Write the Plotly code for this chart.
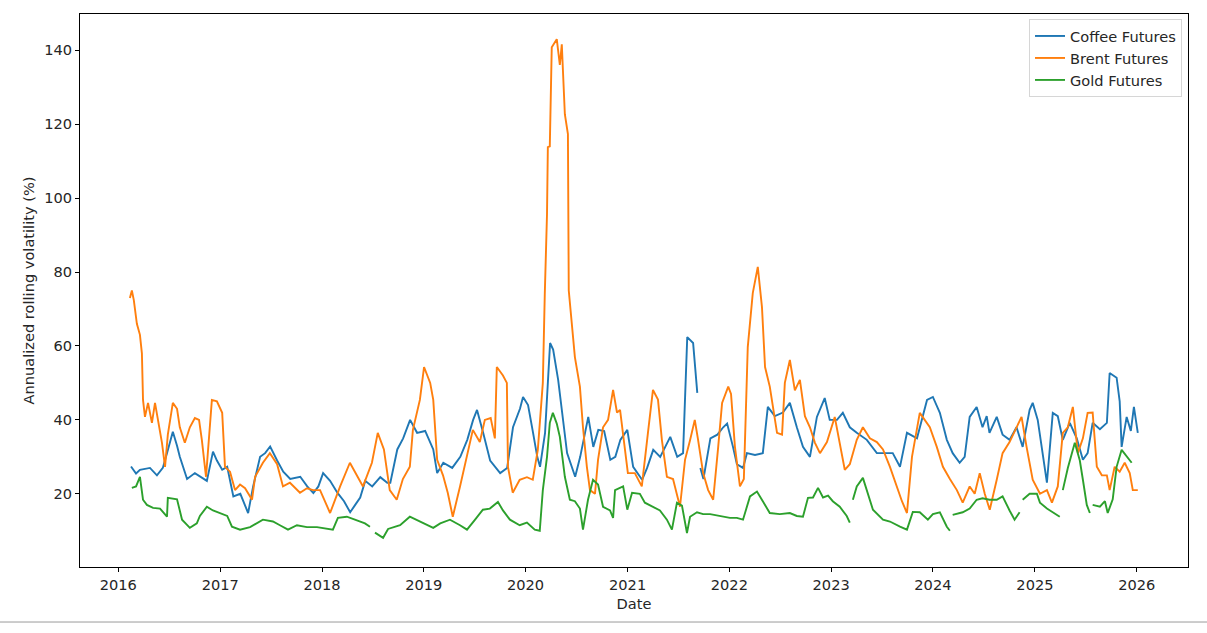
import plotly.graph_objects as go

# ---------------- data ----------------
coffee_dates = [
    "2016-02-16", "2016-03-05", "2016-03-19", "2016-04-24", "2016-05-19", "2016-06-09", "2016-06-24", "2016-07-15",
    "2016-07-30", "2016-08-09", "2016-09-04", "2016-10-02", "2016-11-14", "2016-12-06", "2016-12-20",
    "2017-01-08", "2017-01-26", "2017-02-17", "2017-03-14", "2017-04-11", "2017-04-29", "2017-05-24", "2017-06-11",
    "2017-06-29", "2017-07-24", "2017-08-15", "2017-09-09", "2017-10-15", "2017-11-09", "2017-12-01", "2017-12-19",
    "2018-01-05", "2018-01-30", "2018-02-25", "2018-03-21", "2018-04-12", "2018-04-30", "2018-05-18", "2018-06-05",
    "2018-06-30", "2018-07-29", "2018-08-23", "2018-09-03", "2018-09-28", "2018-10-19", "2018-11-13", "2018-12-08",
    "2019-01-06", "2019-02-04", "2019-02-18", "2019-03-12", "2019-04-13", "2019-05-12", "2019-06-06", "2019-06-27",
    "2019-07-11", "2019-08-02", "2019-08-27", "2019-10-02", "2019-10-27", "2019-11-17", "2019-12-12", "2019-12-23",
    "2020-01-10", "2020-01-28", "2020-02-12", "2020-02-22", "2020-03-11", "2020-03-29", "2020-04-09", "2020-04-27",
    "2020-05-11", "2020-05-29", "2020-06-27", "2020-07-15", "2020-08-13", "2020-08-31", "2020-09-18", "2020-10-09",
    "2020-10-31", "2020-11-18", "2020-12-06", "2020-12-31",
    "2021-01-21", "2021-02-22", "2021-03-12", "2021-04-03", "2021-04-28", "2021-06-03", "2021-06-28", "2021-07-19",
    "2021-08-03", "2021-08-24", "2021-09-08", "2021-09-13",
    "2021-09-19", "2021-09-30", "2021-10-25", "2021-11-19", "2021-12-10", "2021-12-24",
    "2022-01-14", "2022-01-28", "2022-02-19", "2022-03-05", "2022-04-03", "2022-05-01", "2022-05-19", "2022-06-13",
    "2022-07-12", "2022-08-06", "2022-08-31", "2022-09-22", "2022-10-17", "2022-11-11", "2022-12-09", "2022-12-27",
    "2023-01-22", "2023-02-12", "2023-03-09", "2023-04-03", "2023-05-09", "2023-06-14", "2023-07-13", "2023-08-10",
    "2023-09-05", "2023-09-30", "2023-11-05", "2023-12-11",
    "2024-01-01", "2024-01-26", "2024-02-20", "2024-03-12", "2024-04-06", "2024-04-24", "2024-05-12", "2024-06-06",
    "2024-06-27", "2024-07-12", "2024-07-22", "2024-08-17", "2024-09-07", "2024-10-02", "2024-10-27", "2024-11-18",
    "2024-12-13", "2024-12-24",
    "2025-01-11", "2025-01-29", "2025-02-13", "2025-03-06", "2025-03-24", "2025-04-11", "2025-05-06", "2025-05-31",
    "2025-06-22", "2025-07-09", "2025-07-27", "2025-08-22", "2025-09-16", "2025-09-26", "2025-10-21", "2025-11-01",
    "2025-11-08", "2025-11-26", "2025-12-11", "2025-12-22", "2026-01-05",
]
coffee_vals = [
    27.4, 25.5, 26.5, 27.0, 25.0, 27.0, 31, 36.8, 33, 30, 24, 25.6, 23.5, 31.4, 29,
    26.5, 27.3, 19.3, 20, 14.8, 22, 30, 31, 32.8, 29, 26, 24, 24.6, 22, 20.2, 22,
    25.6, 23.5, 20.3, 18, 15, 17, 19, 23.5, 22, 24.5, 23, 23, 32, 35, 40, 36.5,
    37, 32, 25.6, 28.4, 27, 30, 34.6, 40, 42.7, 36.5, 29, 25.6, 27, 38, 43, 46.2,
    44, 36.5, 30, 27.3, 36.5, 60.8, 59, 50.8, 42.7, 31, 24.6, 30, 40.8, 32.7, 37.3, 37, 29.2, 30, 34.6, 37.3,
    27.3, 23.8, 27, 31.9, 30, 35.4, 30, 31, 62.4, 60.8, 47.3, None,
    27, 24, 35, 36, 38, 39,
    32.7, 28, 27, 31, 30.5, 31, 43.5, 41, 42, 44.6, 38, 32.7, 30, 40.8, 45.9, 40,
    40, 41.9, 38, 36.5, 34.6, 31, 31, 31, 27.3, 36.5, 35, 45.4,
    46.2, 41.9, 34.6, 31, 28.4, 30, 40.8, 43.5, 38, 41, 36.5, 40.8, 36, 34.6, 38, 32.7, 42.7, 44.6,
    40, 30, 23, 41.9, 41, 34.6, 39.2, 35, 29.2, 31, 39.2, 37.5, 39.2, 52.7, 51.4, 45, 32.7, 40.8, 37, 43.5, 36.5,
]

brent_dates = [
    "2016-02-12", "2016-02-19", "2016-02-26", "2016-03-08", "2016-03-19", "2016-03-26", "2016-03-30", "2016-04-06",
    "2016-04-17", "2016-05-01", "2016-05-12", "2016-05-23", "2016-06-06", "2016-06-17", "2016-06-27", "2016-07-15",
    "2016-07-30", "2016-08-09", "2016-08-27", "2016-09-14", "2016-10-02", "2016-10-17", "2016-10-27", "2016-11-11",
    "2016-12-02", "2016-12-20",
    "2017-01-08", "2017-01-18", "2017-02-05", "2017-02-23", "2017-03-13", "2017-03-31", "2017-04-25", "2017-05-06",
    "2017-06-03", "2017-06-28", "2017-07-24", "2017-08-14", "2017-09-08", "2017-10-14", "2017-11-08", "2017-11-30",
    "2017-12-25",
    "2018-01-30", "2018-02-10", "2018-03-07", "2018-04-11", "2018-05-06", "2018-05-28", "2018-06-29", "2018-07-20",
    "2018-08-11", "2018-09-01", "2018-09-26", "2018-10-18", "2018-11-12", "2018-11-23", "2018-12-18",
    "2019-01-02", "2019-01-24", "2019-02-04", "2019-02-18", "2019-03-11", "2019-03-28", "2019-04-15", "2019-05-11",
    "2019-06-05", "2019-06-26", "2019-07-21", "2019-08-08", "2019-08-29", "2019-09-13", "2019-09-20", "2019-10-12",
    "2019-10-26", "2019-10-30", "2019-11-16", "2019-12-11",
    "2020-01-06", "2020-01-27", "2020-02-14", "2020-03-03", "2020-03-10", "2020-03-18", "2020-03-21", "2020-03-28",
    "2020-04-04", "2020-04-22", "2020-05-03", "2020-05-10", "2020-05-21", "2020-06-01", "2020-06-04", "2020-06-26",
    "2020-07-14", "2020-07-25", "2020-08-08", "2020-08-19", "2020-09-06", "2020-09-17", "2020-10-05", "2020-10-23",
    "2020-11-10", "2020-11-24", "2020-12-05", "2020-12-22",
    "2021-01-02", "2021-01-27", "2021-02-21", "2021-03-15", "2021-04-02", "2021-04-20", "2021-05-04", "2021-05-22",
    "2021-06-13", "2021-07-08", "2021-07-26", "2021-08-13", "2021-08-30", "2021-09-10", "2021-09-29", "2021-10-17",
    "2021-11-04", "2021-11-22", "2021-12-06", "2021-12-28",
    "2022-01-07", "2022-01-21", "2022-02-08", "2022-02-22", "2022-03-08", "2022-03-26", "2022-04-13", "2022-04-28",
    "2022-05-09", "2022-05-26", "2022-06-21", "2022-07-09", "2022-07-19", "2022-08-06", "2022-08-24", "2022-09-11",
    "2022-09-29", "2022-10-17", "2022-11-04", "2022-11-22", "2022-12-17",
    "2023-01-14", "2023-02-01", "2023-02-19", "2023-03-09", "2023-04-03", "2023-04-25", "2023-05-20", "2023-06-14",
    "2023-07-06", "2023-07-31", "2023-08-25", "2023-09-12", "2023-09-30", "2023-10-18", "2023-11-15", "2023-12-03",
    "2023-12-21",
    "2024-01-15", "2024-02-06", "2024-03-02", "2024-03-27", "2024-04-17", "2024-05-12", "2024-05-30", "2024-06-17",
    "2024-07-05", "2024-07-23", "2024-08-17", "2024-09-07", "2024-10-02", "2024-10-27", "2024-11-14", "2024-12-02",
    "2024-12-24",
    "2025-01-19", "2025-02-13", "2025-03-03", "2025-03-24", "2025-04-11", "2025-04-29", "2025-05-17", "2025-06-04",
    "2025-06-22", "2025-07-09", "2025-07-27", "2025-08-11", "2025-08-29", "2025-09-16", "2025-09-26", "2025-10-14",
    "2025-11-01", "2025-11-19", "2025-12-07", "2025-12-18", "2026-01-05",
]
brent_vals = [
    73, 75, 72.4, 66, 63, 58, 45.4, 40.8, 44.6, 39.2, 44.6, 40, 33.8, 27.3, 36, 44.6, 43, 38, 33.8, 38, 40.5, 40,
    34.6, 24.6, 45.4, 45,
    41.9, 27.3, 26, 21, 22.5, 21.5, 18.4, 24.6, 28.4, 31, 28, 22, 23, 20.3, 21.5, 21, 21,
    14.8, 17, 22, 28.4, 25, 22, 28.4, 36.5, 32, 21, 18.4, 24, 27.3, 37.3, 45.4,
    54.3, 50, 45.4, 29.2, 25, 20.3, 13.8, 22, 30, 37.3, 34, 40, 40.5, 35, 54.3, 52, 50, 27.3, 20.3, 23.8,
    24.5, 23.8, 31.9, 50, 74, 95.7, 113.8, 114, 140.8, 143, 136, 141.6, 122.7, 117.3, 75, 57, 49, 38, 27.3, 21,
    20, 29.2, 38, 40, 48.1, 42, 42.7, 32,
    25.6, 25.6, 22, 36.5, 48.1, 45.5, 34.6, 24.6, 24, 16.5, 29.2, 34.5, 40, 35, 25.6, 21, 18.4, 32.7, 44.6, 49,
    47, 32.7, 22, 24, 59.7, 74.3, 81.4, 70.5, 54.3, 49, 36.5, 36, 50, 56.2, 48, 50.8, 41, 38, 33.8, 31, 34,
    40.8, 34, 26.5, 28, 34.6, 38, 35, 34, 32, 27.3, 22, 18, 14.8, 30, 41.9, 40, 38,
    32.7, 27.3, 24, 21, 17.6, 22, 20, 25.6, 20, 15.7, 23.8, 31, 34, 38, 40.8, 32.7, 23.8,
    20, 21, 17.6, 22, 36.5, 38, 43.5, 31, 35, 41.9, 42, 27.3, 25, 25, 21, 27.3, 26, 28.4, 25.6, 21, 21,
]

gold_dates = [
    "2016-02-19", "2016-03-05", "2016-03-19", "2016-03-30", "2016-04-13", "2016-05-05", "2016-05-30", "2016-06-24",
    "2016-06-27", "2016-07-30", "2016-08-17", "2016-09-14", "2016-10-09", "2016-10-20", "2016-11-14", "2016-12-06",
    "2017-01-26", "2017-02-12", "2017-03-13", "2017-04-18", "2017-06-03", "2017-07-09", "2017-08-03", "2017-09-01",
    "2017-10-03", "2017-11-08", "2017-12-14",
    "2018-02-09", "2018-02-27", "2018-03-31", "2018-04-29", "2018-06-04", "2018-06-22", "2018-06-30", "2018-07-10",
    "2018-08-08", "2018-08-26", "2018-10-08", "2018-11-12", "2018-12-18",
    "2019-02-04", "2019-03-01", "2019-04-05", "2019-05-11", "2019-06-05", "2019-07-04", "2019-08-01", "2019-08-26",
    "2019-09-24", "2019-10-12", "2019-11-06", "2019-12-11",
    "2020-01-06", "2020-02-03", "2020-02-21", "2020-03-03", "2020-03-18", "2020-03-28", "2020-04-08", "2020-04-22",
    "2020-05-03", "2020-05-21", "2020-06-08", "2020-06-26", "2020-07-14", "2020-07-25", "2020-08-12", "2020-08-30",
    "2020-09-17", "2020-10-05", "2020-10-30", "2020-11-10", "2020-11-17", "2020-12-16", "2020-12-31",
    "2021-01-17", "2021-02-14", "2021-03-04", "2021-04-02", "2021-04-27", "2021-05-22", "2021-06-09", "2021-06-27",
    "2021-07-15", "2021-08-02", "2021-08-13", "2021-09-07", "2021-09-29", "2021-10-24", "2021-11-29",
    "2022-01-03", "2022-01-28", "2022-02-19", "2022-03-16", "2022-04-10", "2022-05-01", "2022-05-26", "2022-07-01",
    "2022-08-06", "2022-08-31", "2022-09-22", "2022-10-10", "2022-10-28", "2022-11-15", "2022-12-03", "2022-12-21",
    "2023-01-07", "2023-02-01", "2023-02-26", "2023-03-09", "2023-03-14", "2023-03-20", "2023-04-03", "2023-04-25",
    "2023-05-13", "2023-05-31", "2023-07-06", "2023-07-31", "2023-09-05", "2023-09-30", "2023-10-21", "2023-11-15",
    "2023-12-14",
    "2024-01-01", "2024-01-26", "2024-02-20", "2024-03-02", "2024-03-07", "2024-03-12", "2024-04-17", "2024-05-12",
    "2024-06-06", "2024-06-27", "2024-07-22", "2024-08-17", "2024-09-07", "2024-10-02", "2024-10-20", "2024-11-07",
    "2024-11-12", "2024-11-18", "2024-12-13",
    "2025-01-08", "2025-01-19", "2025-02-13", "2025-03-06", "2025-03-31", "2025-04-05", "2025-04-11", "2025-04-29",
    "2025-05-24", "2025-06-11", "2025-06-22", "2025-07-06", "2025-07-17", "2025-07-22", "2025-07-27", "2025-08-22",
    "2025-09-09", "2025-09-19", "2025-10-07", "2025-10-21", "2025-11-08", "2025-11-26", "2025-12-14", "2025-12-18",
    "2026-01-01",
]
gold_vals = [
    21.6, 22, 24.6, 18.4, 17, 16.2, 16, 13.8, 18.9, 18.5, 13, 10.8, 12, 14, 16.5, 15.5,
    14, 11.1, 10.3, 11, 13, 12.5, 11.5, 10.3, 11.5, 11, 11,
    10.3, 13.5, 13.8, 13, 12, 11.1, None, 9.5, 8.1, 10.5, 11.5, 13.8, 12.5,
    10.8, 12, 13, 11.5, 10.3, 13, 15.7, 16, 17.8, 15.5, 13, 11.5,
    12.2, 10.3, 10, 21, 30, 39.2, 41.9, 39, 35.4, 24.6, 18.4, 18, 16, 10.3, 18.4, 23.8, 22.5, 16.5, 15.5, 13.5,
    21, 22, 15.7,
    20.3, 20, 17.6, 16.5, 15.5, 13, 10.3, 17.6, 16.8, 9.4, 13.8, 15, 14.5, 14.5, 14,
    13.5, 13.5, 13, 19.3, 20.6, 18, 14.8, 14.5, 14.8, 14, 13.8, 18.9, 19, 21.6, 19, 19.5,
    18, 16.5, 14, 12.2, None, 18.4, 22, 24.3, 20, 15.7, 13, 12.5, 11.1, 10.3, 15.1, 15, 13,
    14.5, 15, 11.1, 10, None, 14.3, 15, 16, 18.4, 18.8, 18.4, 18.4, 19.3, 15.5, 13, 15, None, 18.4, 20,
    20, 17.6, 16, 15, 13.8, None, 21, 27, 33.8, 29, 23.8, 17, 14.8, None, 17, 16.5, 18, 14.8, 18.5, 27.3,
    31.9, 30, 28.4, None, 18.4, 23.8,
]

series_names = ["Coffee Futures", "Brent Futures", "Gold Futures"]
series_colors = ["#1f77b4", "#ff7f0e", "#2ca02c"]
y_ticks = [20, 40, 60, 80, 100, 120, 140]

FS = 14.6
TXT = "#262626"

# ---------------- figure ----------------
fig = go.Figure()
for name, color, xs, ys in zip(series_names, series_colors,
                               [coffee_dates, brent_dates, gold_dates],
                               [coffee_vals, brent_vals, gold_vals]):
    fig.add_trace(go.Scatter(x=xs, y=ys, mode="lines", name=name,
                             line=dict(color=color, width=1.9), connectgaps=False))

axis_common = dict(showline=True, mirror=True, linecolor="#000000", linewidth=1,
                   ticks="outside", ticklen=4, tickcolor="#000000", tickwidth=1,
                   showgrid=False, zeroline=False,
                   tickfont=dict(family="DejaVu Sans", size=FS, color=TXT))

fig.update_xaxes(type="date", range=["2015-08-17", "2026-07-04"], dtick="M12", tick0="2016-01-01",
                 tickformat="%Y", title=dict(text="Date", font=dict(size=FS, color=TXT), standoff=7),
                 **axis_common)
fig.update_yaxes(range=[0.2, 149.8], tickvals=y_ticks,
                 title=dict(text="Annualized rolling volatility (%)", font=dict(size=FS, color=TXT),
                            standoff=6),
                 **axis_common)

fig.update_layout(
    width=1207, height=633,
    margin=dict(l=80, r=19, t=14, b=66),
    paper_bgcolor="white", plot_bgcolor="white",
    font=dict(family="DejaVu Sans", size=FS, color=TXT),
    legend=dict(x=0.9946, y=0.991, xanchor="right", yanchor="top",
                bgcolor="rgba(255,255,255,0.9)", bordercolor="#d6d6d6", borderwidth=1,
                font=dict(size=FS, color=TXT), tracegroupgap=0),
    showlegend=True,
)

# thin separator line under the figure, as in the reference
fig.add_shape(type="line", xref="paper", yref="paper", x0=-0.0722, x1=1.0172,
              y0=-0.0995, y1=-0.0995, line=dict(color="#9a9a9a", width=1))

fig.write_html("out.html")
